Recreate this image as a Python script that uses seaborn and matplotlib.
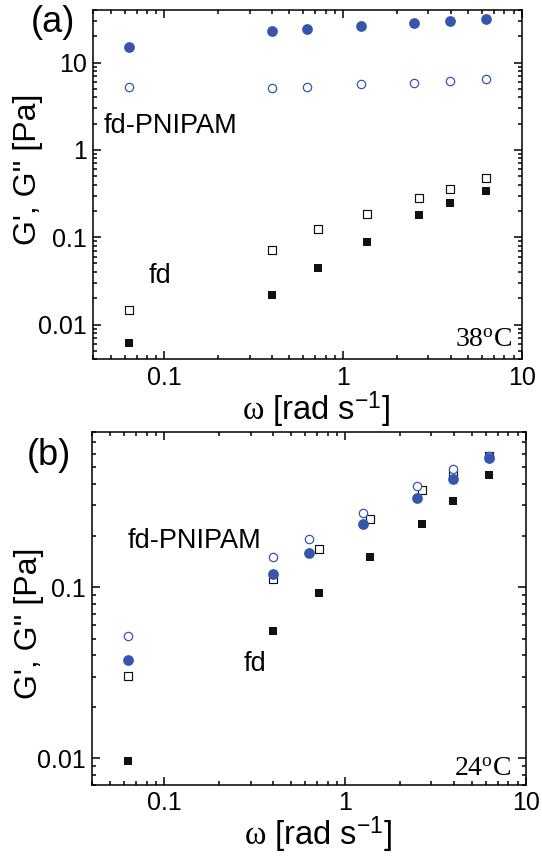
import matplotlib
matplotlib.use("Agg")
import matplotlib.pyplot as plt
import matplotlib.ticker as mticker
import numpy as np
import pandas as pd
import seaborn as sns

# ---------------- data ----------------
omega_circ = [0.063, 0.40, 0.63, 1.26, 2.5, 3.96, 6.28]
omega_sq = [0.063, 0.40, 0.72, 1.37, 2.66, 3.96, 6.28]

# (a) 38 C
a_pnipam_Gp = [14.9, 22.8, 24.2, 26.2, 28.2, 29.7, 31.6]
a_pnipam_Gpp = [5.28, 5.15, 5.28, 5.62, 5.88, 6.09, 6.53]
a_fd_Gp = [0.0062, 0.0215, 0.0446, 0.0875, 0.178, 0.245, 0.34]
a_fd_Gpp = [0.0145, 0.072, 0.125, 0.183, 0.282, 0.352, 0.48]

# (b) 24 C
b_pnipam_Gp = [0.0375, 0.119, 0.159, 0.232, 0.331, 0.428, 0.565]
b_pnipam_Gpp = [0.052, 0.15, 0.19, 0.27, 0.388, 0.488, 0.58]
b_fd_Gp = [0.0097, 0.0557, 0.093, 0.15, 0.233, 0.317, 0.452]
b_fd_Gpp = [0.0303, 0.111, 0.168, 0.249, 0.37, 0.46, 0.585]

x_ticks = [0.1, 1, 10]
y_ticks_a = [0.01, 0.1, 1, 10]
y_ticks_b = [0.01, 0.1]

BLUE = "#3656ae"
BLACK = "#111111"

sns.set_theme(style="ticks")
plt.rcParams["font.family"] = ["Liberation Sans", "DejaVu Sans"]
plt.rcParams["mathtext.fontset"] = "custom"
plt.rcParams["mathtext.rm"] = "Liberation Serif"
plt.rcParams["mathtext.it"] = "Liberation Serif"
plt.rcParams["mathtext.sf"] = "Liberation Sans"
plt.rcParams["text.color"] = "black"
plt.rcParams["axes.labelcolor"] = "black"

fig = plt.figure(figsize=(5.42, 8.56), dpi=100)
ax1 = fig.add_axes([0.1721, 0.5803, 0.7904, 0.4081])
ax2 = fig.add_axes([0.1703, 0.0829, 0.8002, 0.4120])


def panel(ax, gp_c, gpp_c, gp_s, gpp_s, ylim, yticks):
    dc = pd.DataFrame({"omega": omega_circ, "Gp": gp_c, "Gpp": gpp_c})
    ds = pd.DataFrame({"omega": omega_sq, "Gp": gp_s, "Gpp": gpp_s})
    sns.scatterplot(data=ds, x="omega", y="Gpp", marker="s", s=28,
                    facecolor="white", edgecolor=BLACK, linewidth=0.85, ax=ax, zorder=3)
    sns.scatterplot(data=ds, x="omega", y="Gp", marker="s", s=36,
                    color=BLACK, edgecolor=BLACK, linewidth=0, ax=ax, zorder=3)
    sns.scatterplot(data=dc, x="omega", y="Gpp", marker="o", s=36,
                    facecolor="white", edgecolor=BLUE, linewidth=0.9, ax=ax, zorder=4)
    sns.scatterplot(data=dc, x="omega", y="Gp", marker="o", s=60,
                    color=BLUE, edgecolor=BLUE, linewidth=0, ax=ax, zorder=4)
    ax.set_xscale("log")
    ax.set_yscale("log")
    ax.set_xlim(0.04, 10)
    ax.set_ylim(*ylim)
    ax.xaxis.set_major_locator(mticker.FixedLocator(x_ticks))
    ax.yaxis.set_major_locator(mticker.FixedLocator(yticks))
    fmt = mticker.FuncFormatter(lambda v, p: f"{v:g}")
    ax.xaxis.set_major_formatter(fmt)
    ax.yaxis.set_major_formatter(fmt)
    ax.xaxis.set_minor_locator(mticker.LogLocator(base=10, subs=np.arange(2, 10), numticks=20))
    ax.yaxis.set_minor_locator(mticker.LogLocator(base=10, subs=np.arange(2, 10), numticks=20))
    ax.xaxis.set_minor_formatter(mticker.NullFormatter())
    ax.yaxis.set_minor_formatter(mticker.NullFormatter())
    ax.tick_params(which="both", direction="in", top=True, right=True,
                   width=1.1, color="black", labelcolor="black", labelsize=18)
    ax.tick_params(which="major", length=5.5, pad=4.5)
    ax.tick_params(which="minor", length=3)
    for sp in ax.spines.values():
        sp.set_linewidth(1.1)
        sp.set_color("black")
    ax.set_xlabel(r"$\omega$ [rad s$^{\mathsf{-1}}$]", fontsize=23.5)
    ax.set_ylabel("G', G'' [Pa]", fontsize=23)
    ax.xaxis.label.set_va("baseline")
    ax.yaxis.label.set_va("center")


panel(ax1, a_pnipam_Gp, a_pnipam_Gpp, a_fd_Gp, a_fd_Gpp, (0.004, 40), y_ticks_a)
panel(ax2, b_pnipam_Gp, b_pnipam_Gpp, b_fd_Gp, b_fd_Gpp, (0.007, 0.8), y_ticks_b)

ax1.yaxis.set_label_coords(-0.153, 0.545)
ax1.xaxis.set_label_coords(0.52, -0.173)
ax2.yaxis.set_label_coords(-0.146, 0.458)
ax2.xaxis.set_label_coords(0.52, -0.171)

# annotations
fig.text(0.0969, 0.9737, "(a)", fontsize=26, ha="center", va="center")
fig.text(0.0904, 0.4673, "(b)", fontsize=26, ha="center", va="center")

ax1.text(0.025, 0.648, "fd-PNIPAM", transform=ax1.transAxes, fontsize=19.5, ha="left", va="baseline")
ax1.text(0.13, 0.218, "fd", transform=ax1.transAxes, fontsize=19.5, ha="left", va="baseline")
ax1.text(0.977, 0.036, r"38$^{\mathrm{o}}$C", transform=ax1.transAxes, fontsize=20,
         ha="right", va="baseline", family="Liberation Serif")

ax2.text(0.0823, 0.672, "fd-PNIPAM", transform=ax2.transAxes, fontsize=19.5, ha="left", va="baseline")
ax2.text(0.349, 0.323, "fd", transform=ax2.transAxes, fontsize=19.5, ha="left", va="baseline")
ax2.text(0.967, 0.027, r"24$^{\mathrm{o}}$C", transform=ax2.transAxes, fontsize=20,
         ha="right", va="baseline", family="Liberation Serif")

fig.savefig("out.png", dpi=100)
